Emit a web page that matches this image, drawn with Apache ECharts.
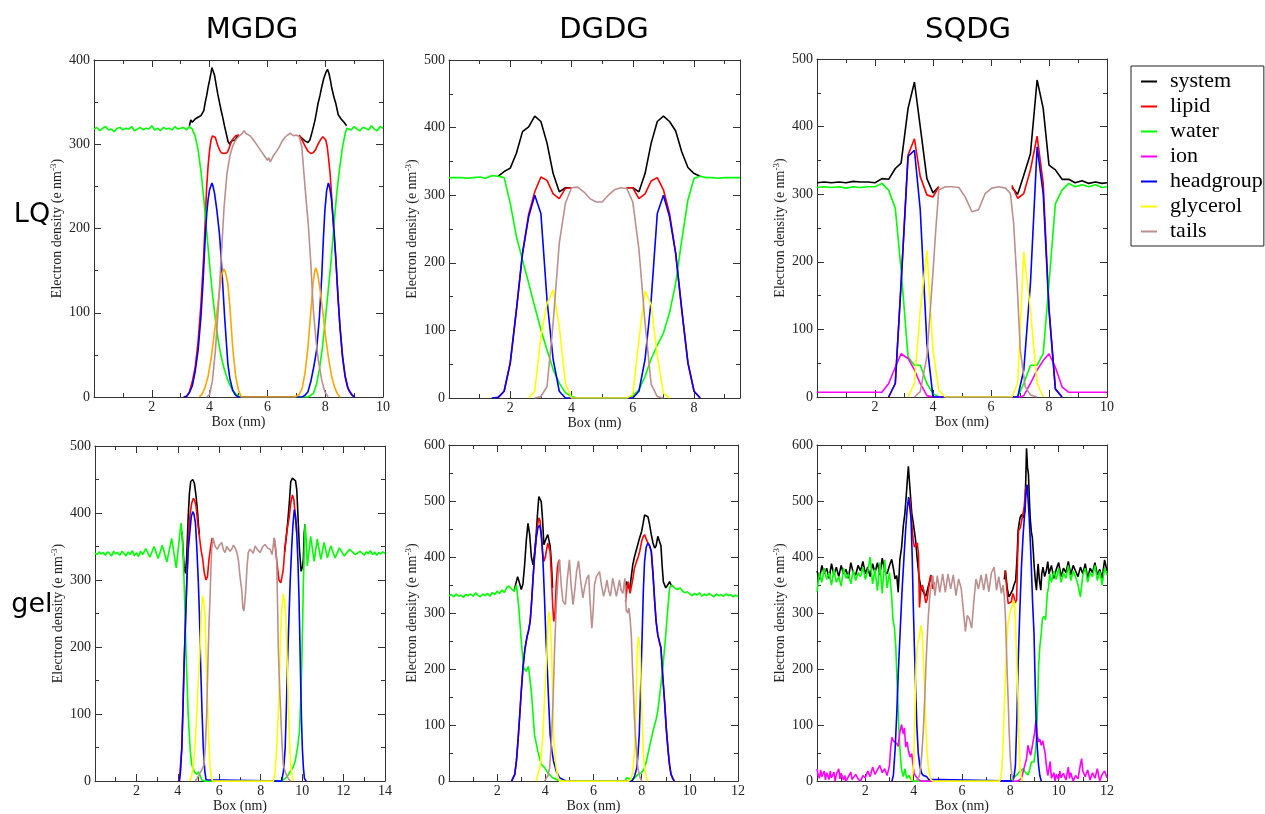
<!DOCTYPE html>
<html><head><meta charset="utf-8">
<script src="https://cdn.jsdelivr.net/npm/echarts@6/dist/echarts.min.js"></script>
<style>html,body{margin:0;padding:0;background:#fff}#c{width:1265px;height:814px}</style>
</head><body><div id="c"></div>
<script>
// ---------------- DATA (x in nm, y in e nm^-3) ----------------
const seriesNames = ['system','lipid','water','ion','headgroup','glycerol','tails'];
const columnTitles = ['MGDG','DGDG','SQDG'];
const rowTitles = ['LQ','gel'];
const xTickStep = 2;
const yTickStep = 100;

// MGDG LQ
const mgdgLQ_system = [[3.3,322],[3.35,329],[3.4,326],[3.5,330],[3.6,332],[3.7,334],[3.8,340],[3.85,350],[3.9,358],[3.95,368],[4.0,376],[4.05,385],[4.08,391],[4.12,387],[4.17,382],[4.22,372],[4.28,360],[4.34,350],[4.4,340],[4.46,331],[4.52,321],[4.58,312],[4.64,303],[4.7,300],[4.76,304],[4.82,306],[4.88,305],[4.95,309],[5.03,311],[5.05,'-'],[7.1,310],[7.2,307],[7.3,304],[7.4,302],[7.47,305],[7.55,315],[7.65,329],[7.75,348],[7.82,358],[7.88,368],[7.95,378],[8.02,385],[8.08,389],[8.13,384],[8.18,376],[8.22,368],[8.3,356],[8.37,348],[8.45,335],[8.55,330],[8.65,326],[8.74,322]];
const mgdgLQ_lipid = [[3.2,0],[3.3,6],[3.4,18],[3.5,35],[3.6,65],[3.7,110],[3.8,170],[3.85,210],[3.9,250],[3.95,275],[4.0,293],[4.05,305],[4.1,310],[4.15,311],[4.2,308],[4.25,302],[4.3,297],[4.35,293],[4.4,290],[4.45,288],[4.5,289],[4.55,291],[4.6,290],[4.65,293],[4.7,298],[4.75,303],[4.8,306],[4.85,308],[4.9,310],[5.0,311],[5.05,'-'],[7.1,311],[7.2,305],[7.3,298],[7.4,292],[7.5,289],[7.58,290],[7.66,293],[7.75,300],[7.85,306],[7.92,309],[7.97,310],[8.02,305],[8.07,297],[8.12,282],[8.17,265],[8.22,240],[8.28,205],[8.37,163],[8.45,115],[8.51,85],[8.6,48],[8.69,25],[8.8,9],[8.9,3],[9.0,0]];
const mgdgLQ_water = [[0,318],[0.1,320],[0.2,316],[0.3,319],[0.4,321],[0.5,317],[0.6,318],[0.7,315],[0.8,319],[0.9,320],[1.0,317],[1.1,319],[1.2,318],[1.3,321],[1.4,316],[1.5,318],[1.6,320],[1.7,317],[1.8,319],[1.9,318],[2.0,322],[2.1,317],[2.2,319],[2.3,316],[2.4,320],[2.5,318],[2.6,319],[2.7,317],[2.8,321],[2.9,318],[3.0,319],[3.1,320],[3.2,317],[3.3,321],[3.4,318],[3.45,316],[3.5,310],[3.6,294],[3.7,268],[3.8,235],[3.9,196],[4.0,157],[4.1,122],[4.2,92],[4.3,67],[4.4,48],[4.5,34],[4.6,23],[4.7,14],[4.8,8],[4.9,4],[5.0,1],[5.1,0],[7.4,0],[7.5,2],[7.6,5],[7.7,15],[7.8,33],[7.9,58],[8.0,90],[8.1,125],[8.2,160],[8.3,203],[8.4,242],[8.5,272],[8.6,297],[8.7,314],[8.75,319],[8.8,321],[8.9,317],[9.0,321],[9.1,318],[9.2,316],[9.3,320],[9.4,319],[9.5,317],[9.6,322],[9.7,318],[9.8,316],[9.9,321],[10,319]];
const mgdgLQ_headgroup = [[3.1,0],[3.2,1],[3.3,5],[3.4,13],[3.5,30],[3.6,55],[3.7,95],[3.77,135],[3.85,190],[3.9,218],[3.95,235],[4.0,246],[4.05,251],[4.08,254],[4.12,250],[4.17,242],[4.25,222],[4.34,194],[4.4,165],[4.46,130],[4.52,95],[4.58,65],[4.63,40],[4.7,22],[4.8,8],[4.9,2],[5.0,0],[7.2,0],[7.3,2],[7.4,6],[7.5,18],[7.6,35],[7.7,55],[7.8,95],[7.88,143],[7.94,190],[7.99,222],[8.05,245],[8.11,254],[8.16,248],[8.22,234],[8.3,200],[8.37,163],[8.44,120],[8.51,83],[8.6,48],[8.69,24],[8.78,11],[8.86,6],[8.94,2],[9.02,0]];
const mgdgLQ_glycerol = [[3.65,0],[3.75,4],[3.85,12],[3.95,25],[4.05,45],[4.15,72],[4.25,100],[4.35,128],[4.42,145],[4.49,152],[4.55,148],[4.63,135],[4.7,108],[4.8,58],[4.9,25],[5.0,8],[5.1,0],[6.95,0],[7.1,3],[7.2,10],[7.3,28],[7.4,58],[7.5,100],[7.58,135],[7.64,150],[7.68,153],[7.74,146],[7.82,128],[7.92,100],[8.02,70],[8.12,45],[8.22,25],[8.32,12],[8.42,4],[8.51,0]];
const mgdgLQ_tails = [[3.9,0],[4.0,3],[4.1,20],[4.2,55],[4.3,105],[4.4,165],[4.5,225],[4.6,265],[4.7,286],[4.8,298],[4.9,305],[5.0,309],[5.1,312],[5.2,316],[5.25,313],[5.3,311],[5.4,310],[5.5,306],[5.6,301],[5.7,296],[5.8,291],[5.9,286],[6.0,281],[6.05,284],[6.1,279],[6.2,286],[6.3,291],[6.4,296],[6.5,303],[6.6,308],[6.7,311],[6.8,313],[6.9,310],[7.0,311],[7.1,309],[7.19,297],[7.3,250],[7.42,202],[7.5,160],[7.59,103],[7.68,68],[7.76,44],[7.88,20],[7.99,6],[8.1,0]];

// DGDG LQ
const dgdgLQ_system = [[1.6,328],[1.8,335],[2.0,340],[2.2,362],[2.4,394],[2.6,401],[2.8,417],[3.0,409],[3.2,377],[3.4,332],[3.6,305],[3.8,311],[4.0,311],[4.1,'-'],[5.8,311],[6.0,311],[6.2,305],[6.4,332],[6.6,377],[6.8,409],[7.0,417],[7.2,409],[7.4,395],[7.6,364],[7.8,341],[8.0,332],[8.2,328]];
const dgdgLQ_lipid = [[1.6,0],[1.8,10],[2.0,52],[2.2,130],[2.4,214],[2.6,272],[2.8,305],[3.0,327],[3.2,322],[3.4,302],[3.6,295],[3.8,310],[4.0,311],[4.1,'-'],[5.8,311],[6.0,311],[6.2,295],[6.4,302],[6.6,321],[6.8,326],[7.0,308],[7.2,273],[7.4,214],[7.6,130],[7.8,52],[8.0,10],[8.2,0]];
const dgdgLQ_water = [[0,326],[0.2,326],[0.4,326],[0.6,325],[0.8,326],[1.0,327],[1.2,325],[1.4,329],[1.6,328],[1.8,326],[2.0,288],[2.2,239],[2.4,204],[2.6,170],[2.8,135],[3.0,101],[3.2,71],[3.4,42],[3.6,22],[3.8,8],[4.0,2],[4.2,0],[5.8,0],[6.0,3],[6.2,12],[6.4,32],[6.6,58],[6.8,78],[7.0,96],[7.2,126],[7.4,170],[7.6,234],[7.8,293],[8.0,325],[8.2,328],[8.4,326],[8.6,326],[8.8,325],[9.0,326],[9.2,326],[9.5,326]];
const dgdgLQ_headgroup = [[1.4,0],[1.6,1],[1.8,10],[2.0,52],[2.2,130],[2.4,214],[2.6,268],[2.8,300],[3.0,273],[3.2,145],[3.4,57],[3.6,10],[3.8,0],[6.0,0],[6.2,10],[6.4,57],[6.6,145],[6.8,273],[7.0,300],[7.2,268],[7.4,214],[7.6,130],[7.8,52],[8.0,10],[8.2,0]];
const dgdgLQ_glycerol = [[2.6,0],[2.8,10],[3.0,91],[3.2,140],[3.4,160],[3.6,106],[3.8,22],[4.0,0],[5.8,0],[6.0,5],[6.2,86],[6.4,158],[6.6,138],[6.8,62],[7.0,7],[7.2,0]];
const dgdgLQ_tails = [[2.8,0],[3.0,2],[3.2,17],[3.4,111],[3.6,229],[3.8,288],[4.0,311],[4.2,312],[4.4,305],[4.6,295],[4.8,290],[5.0,290],[5.2,300],[5.4,308],[5.6,311],[5.8,310],[6.0,290],[6.2,220],[6.4,111],[6.6,20],[6.8,2],[7.0,0]];

// SQDG LQ
const sqdgLQ_system = [[0,317],[0.25,318],[0.5,317],[0.75,318],[1.0,317],[1.25,319],[1.5,318],[1.75,318],[2.0,317],[2.24,323],[2.47,322],[2.7,338],[2.9,346],[3.14,427],[3.36,466],[3.56,400],[3.79,323],[4.0,302],[4.2,311],[4.3,'-'],[6.72,310],[6.92,300],[7.13,328],[7.36,360],[7.59,469],[7.8,427],[8.0,343],[8.22,336],[8.45,322],[8.68,322],[8.9,317],[9.14,320],[9.37,316],[9.6,318],[9.83,316],[10,317]];
const sqdgLQ_lipid = [[2.47,0],[2.7,20],[2.9,168],[3.14,358],[3.36,382],[3.56,326],[3.79,299],[4.0,296],[4.2,311],[4.3,'-'],[6.72,313],[6.92,294],[7.13,301],[7.36,336],[7.59,386],[7.8,316],[8.0,132],[8.22,12],[8.45,0]];
const sqdgLQ_water = [[0,310],[0.25,311],[0.5,310],[0.75,311],[1.0,309],[1.25,311],[1.5,310],[1.75,311],[2.0,311],[2.24,316],[2.47,306],[2.7,279],[2.9,188],[3.14,59],[3.36,47],[3.56,47],[3.79,20],[4.0,5],[4.2,0],[6.92,0],[7.13,20],[7.36,47],[7.59,47],[7.8,64],[8.0,168],[8.22,286],[8.45,306],[8.68,316],[8.9,311],[9.14,314],[9.37,311],[9.6,314],[9.83,310],[10,311]];
const sqdgLQ_ion = [[0,7],[1.0,7],[2.24,7],[2.47,20],[2.7,44],[2.9,64],[3.14,57],[3.36,40],[3.56,20],[3.79,2],[4.0,0],[7.0,0],[7.13,2],[7.36,20],[7.59,40],[7.8,54],[8.0,64],[8.22,44],[8.45,15],[8.68,7],[10,7]];
const sqdgLQ_headgroup = [[2.47,0],[2.7,20],[2.9,168],[3.14,356],[3.36,365],[3.56,277],[3.79,79],[4.0,0],[6.92,0],[7.13,40],[7.36,168],[7.59,370],[7.8,301],[8.0,128],[8.22,12],[8.45,0]];
const sqdgLQ_glycerol = [[3.14,0],[3.36,20],[3.56,128],[3.79,217],[4.0,69],[4.2,10],[4.42,0],[6.72,0],[6.92,20],[7.13,215],[7.36,128],[7.59,20],[7.8,0]];
const sqdgLQ_tails = [[3.36,0],[3.56,8],[3.79,60],[4.0,185],[4.1,250],[4.2,306],[4.42,311],[4.65,311],[4.89,310],[5.11,296],[5.34,274],[5.57,277],[5.8,301],[6.03,309],[6.26,311],[6.5,309],[6.67,301],[6.78,257],[6.9,168],[7.01,69],[7.18,15],[7.36,3],[7.59,0]];

// MGDG gel
const mgdgGel_system = [[4.2,372],[4.3,320],[4.36,310],[4.42,330],[4.5,395],[4.56,430],[4.62,447],[4.72,450],[4.8,444],[4.88,425],[4.94,405],[5.0,380],[5.04,368],[5.06,'-'],[9.15,342],[9.22,361],[9.3,385],[9.38,415],[9.45,447],[9.53,452],[9.61,454],[9.68,448],[9.74,435],[9.8,395],[9.87,346],[9.95,313],[10.02,320],[10.06,332],[10.1,370],[10.14,383]];
const mgdgGel_lipid = [[4.07,0],[4.19,49],[4.3,173],[4.43,296],[4.52,370],[4.59,398],[4.67,415],[4.75,422],[4.82,418],[4.88,410],[4.96,385],[5.04,365],[5.12,345],[5.2,331],[5.28,310],[5.36,300],[5.43,305],[5.5,330],[5.59,351],[5.66,363],[5.7,'-'],[8.65,363],[8.72,345],[8.8,321],[8.88,300],[8.97,296],[9.03,305],[9.09,316],[9.15,340],[9.22,361],[9.3,380],[9.38,395],[9.45,415],[9.53,427],[9.6,420],[9.66,400],[9.72,380],[9.74,370]];
const mgdgGel_water = [[0,340],[0.1,338],[0.2,342],[0.3,339],[0.4,341],[0.5,337],[0.6,342],[0.7,340],[0.8,336],[0.9,343],[1.0,339],[1.1,341],[1.2,337],[1.3,343],[1.4,340],[1.5,336],[1.6,342],[1.7,338],[1.8,344],[1.9,336],[2.0,341],[2.1,335],[2.2,343],[2.3,338],[2.45,347],[2.65,334],[2.85,350],[3.05,332],[3.25,352],[3.47,327],[3.7,362],[3.92,318],[4.15,385],[4.22,365],[4.3,300],[4.39,197],[4.5,98],[4.6,45],[4.67,24],[4.8,14],[4.91,10],[5.0,14],[5.08,8],[5.15,2],[5.3,0],[9.0,0],[9.18,4],[9.3,8],[9.42,14],[9.55,20],[9.66,29],[9.78,50],[9.87,74],[9.93,120],[9.98,173],[10.06,296],[10.14,383],[10.2,360],[10.25,321],[10.41,365],[10.58,328],[10.73,361],[10.9,331],[11.06,356],[11.22,333],[11.38,351],[11.59,333],[11.8,348],[12.03,336],[12.29,346],[12.56,338],[12.8,343],[13.0,337],[13.1,342],[13.2,339],[13.3,344],[13.4,338],[13.5,342],[13.6,337],[13.7,341],[13.8,339],[13.9,342],[14,340]];
const mgdgGel_headgroup = [[4.07,0],[4.13,15],[4.19,49],[4.25,110],[4.3,173],[4.37,240],[4.43,296],[4.5,345],[4.59,375],[4.65,395],[4.72,402],[4.78,398],[4.85,385],[4.92,345],[4.99,296],[5.05,240],[5.1,173],[5.17,100],[5.23,49],[5.3,15],[5.36,2],[5.45,0],[9.01,0],[9.1,15],[9.18,49],[9.24,110],[9.29,173],[9.36,240],[9.42,296],[9.49,345],[9.55,380],[9.62,405],[9.68,395],[9.74,370],[9.8,325],[9.85,271],[9.89,210],[9.93,148],[9.97,90],[10.01,49],[10.06,20],[10.11,4],[10.2,0]];
const mgdgGel_glycerol = [[4.59,0],[4.67,8],[4.75,24],[4.83,55],[4.91,98],[4.99,150],[5.07,197],[5.13,250],[5.18,277],[5.24,270],[5.31,247],[5.37,180],[5.43,123],[5.49,60],[5.55,24],[5.62,5],[5.68,0],[8.61,0],[8.7,15],[8.77,49],[8.84,95],[8.9,148],[8.96,220],[9.01,255],[9.09,279],[9.15,268],[9.21,247],[9.27,185],[9.33,123],[9.39,60],[9.45,24],[9.52,6],[9.58,0]];
const mgdgGel_tails = [[4.83,0],[4.95,5],[5.07,12],[5.17,18],[5.26,24],[5.33,55],[5.39,98],[5.43,150],[5.47,197],[5.51,240],[5.55,271],[5.59,310],[5.63,346],[5.7,363],[5.8,350],[5.91,346],[6.0,352],[6.12,356],[6.2,345],[6.28,341],[6.36,350],[6.44,351],[6.52,343],[6.6,346],[6.68,352],[6.76,348],[6.84,342],[6.92,331],[7.0,305],[7.08,286],[7.14,258],[7.19,254],[7.24,270],[7.28,286],[7.34,320],[7.4,341],[7.48,346],[7.56,348],[7.64,340],[7.73,351],[7.85,345],[7.97,341],[8.1,350],[8.21,353],[8.33,348],[8.45,346],[8.55,338],[8.65,363],[8.72,350],[8.77,331],[8.81,270],[8.85,197],[8.9,150],[8.97,98],[9.03,55],[9.09,24],[9.2,12],[9.33,4],[9.45,0]];

// DGDG gel
const dgdgGel_system = [[2.7,339],[2.75,348],[2.85,365],[2.95,350],[3.0,342],[3.07,352],[3.14,386],[3.21,430],[3.28,460],[3.35,440],[3.42,400],[3.49,386],[3.56,410],[3.62,440],[3.68,480],[3.73,508],[3.78,505],[3.83,499],[3.88,470],[3.94,422],[4.0,425],[4.04,434],[4.1,440],[4.15,437],[4.2,420],[4.25,390],[4.3,345],[4.35,'-'],[7.33,345],[7.36,356],[7.43,350],[7.5,342],[7.57,365],[7.63,386],[7.7,400],[7.8,416],[7.9,432],[8.0,446],[8.06,460],[8.12,475],[8.19,476],[8.26,472],[8.33,458],[8.4,440],[8.47,425],[8.54,416],[8.6,420],[8.67,437],[8.74,435],[8.8,420],[8.85,385],[8.9,356],[9.0,345],[9.08,350],[9.16,356],[9.22,350],[9.3,348]];
const dgdgGel_lipid = [[2.6,0],[2.66,2],[2.73,12],[2.8,36],[2.87,75],[2.93,113],[3.0,160],[3.07,202],[3.15,235],[3.24,258],[3.3,268],[3.37,285],[3.43,320],[3.49,362],[3.55,400],[3.62,434],[3.68,458],[3.73,470],[3.78,465],[3.83,440],[3.88,410],[3.94,392],[4.0,400],[4.04,410],[4.1,425],[4.15,428],[4.2,410],[4.25,370],[4.3,318],[4.35,285],[4.4,300],[4.45,350],[4.5,380],[4.55,392],[4.6,395],[4.62,'-'],[7.33,320],[7.38,340],[7.43,356],[7.47,350],[7.52,335],[7.57,333],[7.63,360],[7.7,380],[7.77,390],[7.84,398],[7.92,410],[8.0,428],[8.06,436],[8.12,440],[8.19,432],[8.26,425],[8.33,420],[8.4,410],[8.47,370],[8.54,321],[8.6,285],[8.67,261],[8.74,248],[8.8,238],[8.87,190],[8.95,143],[9.02,95],[9.1,53],[9.16,28],[9.22,12],[9.3,4],[9.36,0]];
const dgdgGel_water = [[0,331],[0.1,333],[0.2,329],[0.3,334],[0.4,330],[0.5,332],[0.6,328],[0.7,333],[0.8,331],[0.9,334],[1.0,330],[1.1,336],[1.2,332],[1.3,329],[1.4,334],[1.5,331],[1.6,335],[1.7,330],[1.8,337],[1.9,333],[2.0,339],[2.1,335],[2.2,341],[2.3,337],[2.4,346],[2.5,348],[2.6,343],[2.7,339],[2.8,350],[2.9,309],[3.0,250],[3.1,202],[3.2,196],[3.3,205],[3.42,160],[3.55,83],[3.69,53],[3.83,30],[3.97,24],[4.1,15],[4.3,6],[4.6,0],[7.3,0],[7.38,6],[7.45,8],[7.55,3],[7.7,5],[7.85,12],[8.0,15],[8.1,22],[8.2,36],[8.33,62],[8.47,89],[8.6,110],[8.67,125],[8.78,165],[8.88,202],[9.0,261],[9.08,305],[9.16,345],[9.23,350],[9.3,348],[9.4,344],[9.5,342],[9.6,345],[9.7,339],[9.8,336],[9.9,338],[10.0,334],[10.1,331],[10.2,335],[10.3,332],[10.4,336],[10.5,330],[10.6,334],[10.7,331],[10.8,335],[10.9,332],[11.0,329],[11.1,334],[11.2,331],[11.3,333],[11.4,330],[11.5,334],[11.6,331],[11.7,333],[11.8,329],[11.9,332],[12.0,330]];
const dgdgGel_headgroup = [[2.6,0],[2.66,2],[2.73,12],[2.8,36],[2.87,75],[2.93,113],[3.0,160],[3.07,202],[3.15,235],[3.24,258],[3.3,268],[3.37,285],[3.43,320],[3.49,362],[3.55,400],[3.62,434],[3.69,452],[3.76,457],[3.82,445],[3.87,422],[3.92,375],[3.97,321],[4.02,260],[4.08,202],[4.14,140],[4.2,83],[4.27,55],[4.34,36],[4.45,18],[4.59,6],[4.87,0],[7.6,0],[7.7,8],[7.8,24],[7.85,50],[7.9,83],[7.96,170],[8.02,261],[8.07,340],[8.12,392],[8.19,418],[8.26,425],[8.33,420],[8.4,410],[8.47,370],[8.54,321],[8.6,285],[8.67,261],[8.74,248],[8.8,238],[8.87,190],[8.95,143],[9.02,95],[9.1,53],[9.16,28],[9.22,12],[9.3,4],[9.36,0]];
const dgdgGel_glycerol = [[3.62,0],[3.69,3],[3.8,30],[3.9,83],[3.97,150],[4.04,202],[4.09,260],[4.14,303],[4.19,290],[4.25,250],[4.3,160],[4.34,83],[4.4,45],[4.45,24],[4.52,8],[4.59,0],[7.45,0],[7.55,3],[7.63,15],[7.7,53],[7.77,140],[7.82,238],[7.87,258],[7.93,240],[7.98,170],[8.02,110],[8.07,50],[8.12,24],[8.19,6],[8.26,0]];
const dgdgGel_tails = [[3.97,0],[4.04,3],[4.11,10],[4.18,24],[4.25,70],[4.32,143],[4.38,230],[4.45,309],[4.52,360],[4.59,395],[4.66,350],[4.73,321],[4.83,315],[4.91,360],[5.0,395],[5.07,350],[5.15,315],[5.22,340],[5.3,375],[5.38,393],[5.46,360],[5.56,327],[5.63,345],[5.72,362],[5.8,368],[5.86,320],[5.93,273],[5.98,300],[6.04,350],[6.12,365],[6.25,374],[6.33,350],[6.42,330],[6.5,345],[6.56,359],[6.63,340],[6.7,330],[6.8,362],[6.88,345],[6.95,330],[7.02,345],[7.08,359],[7.15,340],[7.22,335],[7.3,362],[7.36,305],[7.42,300],[7.47,309],[7.52,290],[7.57,261],[7.63,190],[7.7,113],[7.77,60],[7.84,24],[7.92,8],[8.0,0]];

// SQDG gel
const sqdgGel_system = [[0,375],[0.1,360],[0.2,385],[0.3,370],[0.4,380],[0.5,362],[0.6,388],[0.7,368],[0.8,382],[0.9,365],[1.0,385],[1.1,370],[1.2,378],[1.3,362],[1.4,390],[1.5,372],[1.6,368],[1.7,385],[1.8,375],[1.9,392],[2.0,370],[2.1,382],[2.2,365],[2.3,388],[2.4,372],[2.5,390],[2.6,368],[2.7,398],[2.8,375],[2.9,370],[3.0,385],[3.09,396],[3.16,380],[3.23,361],[3.3,367],[3.36,337],[3.43,396],[3.5,417],[3.57,455],[3.64,479],[3.71,520],[3.78,562],[3.85,520],[3.92,479],[3.98,462],[4.03,462],[4.08,430],[4.15,395],[4.22,365],[4.3,345],[4.4,338],[4.5,330],[4.58,330],[4.65,355],[4.72,368],[4.75,'-'],[7.75,360],[7.8,376],[7.87,345],[7.94,329],[8.02,335],[8.09,341],[8.15,350],[8.22,358],[8.28,400],[8.32,447],[8.4,470],[8.46,476],[8.53,470],[8.6,482],[8.64,540],[8.67,594],[8.71,560],[8.75,547],[8.8,490],[8.83,465],[8.87,445],[8.91,435],[8.95,410],[8.98,388],[9.03,360],[9.08,341],[9.12,370],[9.15,388],[9.2,360],[9.26,341],[9.3,370],[9.35,382],[9.42,365],[9.49,376],[9.55,392],[9.6,370],[9.7,385],[9.8,362],[9.9,378],[10.0,390],[10.1,365],[10.2,380],[10.3,372],[10.4,392],[10.5,368],[10.6,385],[10.7,375],[10.8,365],[10.9,382],[11.0,370],[11.1,388],[11.2,362],[11.3,380],[11.4,372],[11.5,390],[11.6,368],[11.7,378],[11.8,362],[11.9,395],[12.0,375]];
const sqdgGel_lipid = [[3.84,505],[3.89,478],[3.94,450],[3.98,430],[4.03,418],[4.08,420],[4.15,425],[4.2,405],[4.24,310],[4.3,345],[4.36,350],[4.42,340],[4.5,318],[4.56,325],[4.62,345],[4.7,367],[4.79,343],[4.85,355],[4.88,'-'],[7.78,376],[7.85,345],[7.91,317],[7.98,318],[8.04,320],[8.1,335],[8.15,329],[8.2,318],[8.26,323],[8.3,400],[8.34,447],[8.42,453],[8.49,470],[8.57,488],[8.63,520],[8.69,529]];
const sqdgGel_water = [[0,338],[0.1,372],[0.2,355],[0.3,380],[0.4,360],[0.5,372],[0.6,350],[0.7,378],[0.8,355],[0.9,365],[1.0,348],[1.1,380],[1.2,362],[1.3,370],[1.4,352],[1.5,376],[1.6,358],[1.7,372],[1.8,365],[1.9,382],[2.0,360],[2.1,375],[2.2,400],[2.3,352],[2.4,378],[2.5,340],[2.6,390],[2.7,335],[2.8,395],[2.9,345],[3.0,372],[3.09,330],[3.14,290],[3.2,275],[3.26,240],[3.32,170],[3.38,100],[3.45,45],[3.5,20],[3.57,8],[3.64,22],[3.71,5],[3.8,10],[3.9,2],[4.0,0],[8.0,0],[8.11,5],[8.26,11],[8.39,17],[8.53,22],[8.63,15],[8.73,11],[8.8,20],[8.87,34],[8.98,34],[9.03,50],[9.08,75],[9.13,140],[9.17,205],[9.22,240],[9.28,264],[9.33,290],[9.39,294],[9.46,288],[9.53,335],[9.58,345],[9.63,370],[9.7,355],[9.8,375],[9.9,360],[10.0,380],[10.1,355],[10.2,372],[10.3,362],[10.4,385],[10.5,358],[10.6,375],[10.7,365],[10.8,350],[10.9,329],[11.0,368],[11.1,380],[11.2,355],[11.3,372],[11.4,365],[11.5,385],[11.6,358],[11.7,375],[11.8,350],[11.9,380],[12.0,368]];
const sqdgGel_ion = [[0,22],[0.05,10],[0.1,5],[0.15,20],[0.2,8],[0.3,18],[0.35,2],[0.4,15],[0.5,3],[0.55,18],[0.6,6],[0.7,16],[0.75,0],[0.8,12],[0.9,22],[0.95,4],[1.0,14],[1.1,2],[1.15,10],[1.2,0],[1.3,8],[1.4,16],[1.45,3],[1.5,0],[1.6,12],[1.7,4],[1.8,0],[1.9,10],[2.0,6],[2.1,18],[2.2,8],[2.3,25],[2.4,12],[2.5,20],[2.6,28],[2.7,15],[2.8,22],[2.9,10],[3.0,28],[3.05,60],[3.1,78],[3.16,72],[3.23,75],[3.3,67],[3.36,62],[3.42,85],[3.5,101],[3.57,84],[3.62,95],[3.67,61],[3.73,70],[3.78,55],[3.85,43],[3.92,49],[3.97,30],[4.02,13],[4.12,7],[4.2,3],[4.3,0],[8.3,0],[8.46,5],[8.6,28],[8.67,40],[8.73,64],[8.78,55],[8.84,46],[8.9,60],[8.94,70],[9.01,87],[9.06,110],[9.12,80],[9.17,70],[9.22,75],[9.28,64],[9.34,72],[9.39,70],[9.44,50],[9.49,28],[9.55,10],[9.6,22],[9.65,35],[9.7,5],[9.8,15],[9.85,0],[9.9,12],[10.0,3],[10.05,18],[10.1,6],[10.2,14],[10.3,2],[10.4,25],[10.45,5],[10.5,15],[10.6,0],[10.7,10],[10.8,4],[10.9,30],[10.95,40],[11.0,18],[11.1,8],[11.2,20],[11.3,2],[11.4,15],[11.5,5],[11.6,22],[11.7,0],[11.8,12],[11.9,18],[12.0,6]];
const sqdgGel_headgroup = [[3.1,0],[3.16,10],[3.23,55],[3.3,120],[3.37,200],[3.45,275],[3.52,340],[3.6,400],[3.67,450],[3.73,485],[3.79,507],[3.84,505],[3.89,470],[3.94,400],[3.98,320],[4.03,240],[4.08,170],[4.13,100],[4.19,50],[4.26,26],[4.33,14],[4.4,10],[4.47,12],[4.54,8],[4.62,3],[4.7,0],[8.11,0],[8.16,10],[8.21,28],[8.27,110],[8.32,205],[8.39,300],[8.46,382],[8.53,440],[8.6,482],[8.65,515],[8.69,529],[8.73,505],[8.78,470],[8.83,425],[8.87,382],[8.92,320],[8.98,264],[9.03,170],[9.08,87],[9.13,50],[9.17,28],[9.22,10],[9.28,0]];
const sqdgGel_glycerol = [[3.92,0],[4.0,30],[4.05,110],[4.1,208],[4.15,240],[4.2,252],[4.25,262],[4.3,278],[4.35,265],[4.4,220],[4.45,170],[4.5,100],[4.55,55],[4.61,25],[4.66,12],[4.7,3],[4.8,0],[7.56,0],[7.62,10],[7.66,28],[7.7,70],[7.74,117],[7.79,180],[7.84,234],[7.9,280],[7.98,300],[8.05,310],[8.11,318],[8.16,322],[8.21,288],[8.26,220],[8.32,146],[8.36,70],[8.39,28],[8.44,8],[8.49,0]];
const sqdgGel_tails = [[4.1,0],[4.2,5],[4.26,13],[4.33,45],[4.4,90],[4.46,150],[4.51,208],[4.56,255],[4.61,296],[4.66,325],[4.7,343],[4.79,367],[4.88,331],[4.98,367],[5.08,337],[5.2,370],[5.31,337],[5.42,370],[5.53,343],[5.64,368],[5.75,331],[5.86,361],[5.97,343],[6.05,308],[6.14,267],[6.22,296],[6.3,290],[6.4,273],[6.5,326],[6.58,361],[6.68,343],[6.79,368],[6.9,341],[7.0,370],[7.11,338],[7.22,372],[7.33,382],[7.43,341],[7.52,365],[7.63,335],[7.7,350],[7.75,330],[7.8,290],[7.84,234],[7.88,180],[7.91,146],[7.95,90],[8.0,40],[8.05,15],[8.11,0]];

// ---------------- STYLE / LAYOUT ----------------
const lineColors = {system:'#000000', lipid:'#ff0000', water:'#00ff00', ion:'#ff00ff', headgroup:'#0000ff', glycerol:'#ffff00', tails:'#bc8f8f'};
const panels = [
  {grid:{left:94, top:60, width:289, height:337}, xMax:10, yMax:400,
   data:{system:mgdgLQ_system, lipid:mgdgLQ_lipid, water:mgdgLQ_water, headgroup:mgdgLQ_headgroup, glycerol:mgdgLQ_glycerol, tails:mgdgLQ_tails},
   colorOverride:{glycerol:'#ffa500'}},
  {grid:{left:449, top:60, width:291, height:338}, xMax:9.5, yMax:500,
   data:{system:dgdgLQ_system, lipid:dgdgLQ_lipid, water:dgdgLQ_water, headgroup:dgdgLQ_headgroup, glycerol:dgdgLQ_glycerol, tails:dgdgLQ_tails}},
  {grid:{left:817, top:59, width:290, height:338}, xMax:10, yMax:500,
   data:{system:sqdgLQ_system, lipid:sqdgLQ_lipid, water:sqdgLQ_water, ion:sqdgLQ_ion, headgroup:sqdgLQ_headgroup, glycerol:sqdgLQ_glycerol, tails:sqdgLQ_tails}},
  {grid:{left:95, top:446, width:290, height:337}, xMax:14, yMax:500,
   data:{system:mgdgGel_system, lipid:mgdgGel_lipid, water:mgdgGel_water, headgroup:mgdgGel_headgroup, glycerol:mgdgGel_glycerol, tails:mgdgGel_tails}},
  {grid:{left:449, top:445, width:289, height:337}, xMax:12, yMax:600,
   data:{system:dgdgGel_system, lipid:dgdgGel_lipid, water:dgdgGel_water, headgroup:dgdgGel_headgroup, glycerol:dgdgGel_glycerol, tails:dgdgGel_tails}},
  {grid:{left:817, top:445, width:290, height:339}, xMax:12, yMax:600,
   data:{system:sqdgGel_system, lipid:sqdgGel_lipid, water:sqdgGel_water, ion:sqdgGel_ion, headgroup:sqdgGel_headgroup, glycerol:sqdgGel_glycerol, tails:sqdgGel_tails}}
];

const serif = 'Liberation Serif';
const axisColor = '#333';
const tickCommon = {
  splitLine:{show:false},
  axisLine:{show:true, onZero:false, lineStyle:{color:axisColor, width:1}},
  axisTick:{show:true, inside:true, length:7, lineStyle:{color:axisColor, width:1}},
  minorTick:{show:true, splitNumber:2, length:4, lineStyle:{color:axisColor, width:1}}
};
const grids = [], xAxes = [], yAxes = [], series = [];
panels.forEach((p, i) => {
  grids.push(Object.assign({show:false, containLabel:false}, p.grid));
  const xc = Object.assign({type:'value', gridIndex:i, min:0, max:p.xMax, interval:xTickStep}, tickCommon);
  const yc = Object.assign({type:'value', gridIndex:i, min:0, max:p.yMax, interval:yTickStep}, tickCommon);
  xAxes.push(Object.assign({}, xc, {position:'bottom',
    axisLabel:{show:true, margin:3, fontFamily:serif, fontSize:14, color:'#222',
      formatter:v => ((v === 0 || v % xTickStep !== 0) ? '' : String(v))},
    name:'Box (nm)', nameLocation:'middle', nameGap:17,
    nameTextStyle:{fontFamily:serif, fontSize:14, color:'#222'}}));
  xAxes.push(Object.assign({}, xc, {position:'top', axisLabel:{show:false}}));
  yAxes.push(Object.assign({}, yc, {position:'left',
    axisLabel:{show:true, margin:4, fontFamily:serif, fontSize:14, color:'#222'},
    name:'Electron density (e nm{s|-3})', nameLocation:'middle', nameGap:28,
    nameTextStyle:{fontFamily:serif, fontSize:14, color:'#222',
      rich:{s:{fontFamily:serif, fontSize:9, color:'#222', padding:[0,0,8,0]}}}}));
  yAxes.push(Object.assign({}, yc, {position:'right', axisLabel:{show:false}}));
  seriesNames.forEach(n => {
    if (!p.data[n]) return;
    const col = (p.colorOverride && p.colorOverride[n]) || lineColors[n];
    series.push({type:'line', name:n, xAxisIndex:2*i, yAxisIndex:2*i, data:p.data[n],
      showSymbol:false, symbol:'none', connectNulls:false, silent:true, animation:false,
      lineStyle:{color:col, width:1.6}, itemStyle:{color:col}});
  });
});

const graphics = [];
const titleX = [252, 604, 968];
columnTitles.forEach((t, k) => graphics.push({type:'text', x:titleX[k], y:30,
  style:{text:t, fontFamily:'DejaVu Sans', fontSize:29, fill:'#000', align:'center', verticalAlign:'middle'}}));
const rowY = [215, 605];
rowTitles.forEach((t, k) => graphics.push({type:'text', x:32, y:rowY[k],
  style:{text:t, fontFamily:'DejaVu Sans', fontSize:27, fill:'#000', align:'center', verticalAlign:'middle'}}));

const chart = echarts.init(document.getElementById('c'), null, {renderer:'canvas'});
chart.setOption({
  backgroundColor:'#fff',
  animation:false,
  grid:grids, xAxis:xAxes, yAxis:yAxes, series:series,
  graphic:graphics,
  legend:{orient:'vertical', left:1131, top:66, padding:[3,1,2,10], itemGap:0,
    itemWidth:16, itemHeight:2, icon:'rect', selectedMode:false,
    borderColor:'#222', borderWidth:1, backgroundColor:'#fff',
    textStyle:{fontFamily:serif, fontSize:22, color:'#000', lineHeight:25, padding:[0,0,0,8]},
    data:seriesNames.map(n => ({name:n, itemStyle:{color:lineColors[n]}}))}
});
</script></body></html>
